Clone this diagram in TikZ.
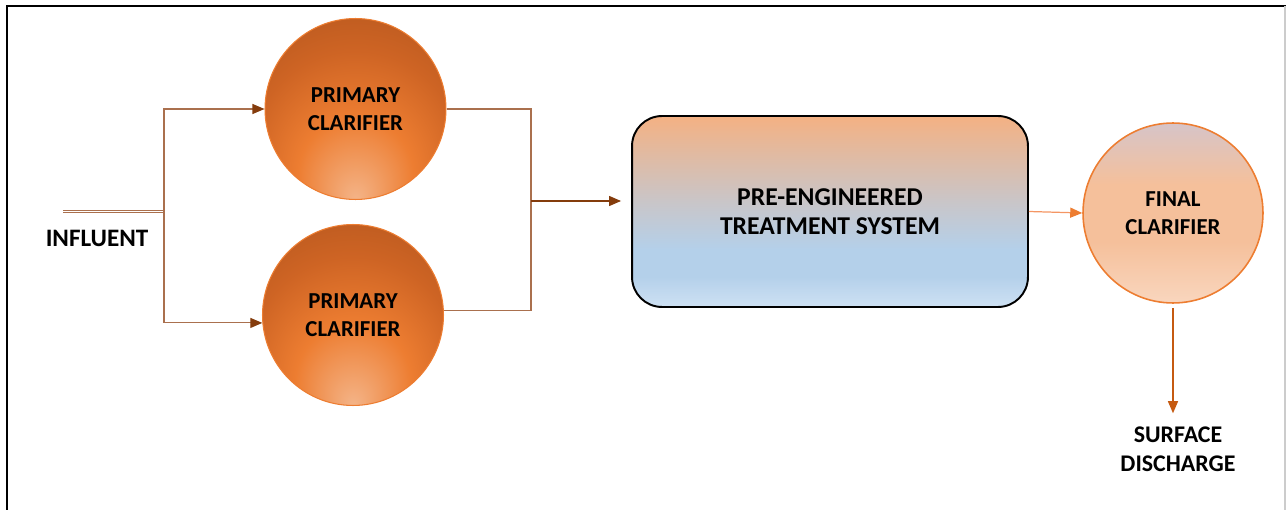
\documentclass[tikz,border=0pt]{standalone}
\usepackage{fontspec}
\setmainfont{Carlito}
\usetikzlibrary{arrows.meta}

%% Colours
\definecolor{pipeBrown}{RGB}{170,112,78}
\definecolor{tipBrown}{RGB}{132,60,12}
\definecolor{clarOrange}{RGB}{237,125,49}
\definecolor{clarLight}{RGB}{244,180,136}
\definecolor{clarDeep}{RGB}{206,100,36}
\definecolor{clarDark}{RGB}{172,82,28}
\definecolor{dischargeOrange}{RGB}{197,90,17}
\definecolor{effluentOrange}{RGB}{244,150,100}
\definecolor{boxOrange}{RGB}{244,177,131}
\definecolor{boxGray}{RGB}{200,198,202}
\definecolor{boxBlue}{RGB}{180,208,234}
\definecolor{boxBlueLight}{RGB}{206,225,243}
\definecolor{finalTop}{RGB}{214,196,200}
\definecolor{finalMid}{RGB}{245,192,155}
\definecolor{finalBottom}{RGB}{249,214,190}

%% Shadings
\pgfdeclareradialshading{primaryShade}{\pgfpoint{0bp}{-25bp}}{%
  color(0bp)=(clarLight); color(16bp)=(clarOrange); color(29bp)=(clarDeep);
  color(46bp)=(clarDark); color(60bp)=(clarDark)}
\pgfdeclareverticalshading{treatShade}{100bp}{%
  color(0bp)=(boxBlueLight); color(25bp)=(boxBlueLight); color(33bp)=(boxBlue);
  color(40bp)=(boxBlue); color(52bp)=(boxGray); color(75bp)=(boxOrange);
  color(100bp)=(boxOrange)}
\pgfdeclareverticalshading{finalShade}{100bp}{%
  color(0bp)=(finalBottom); color(25bp)=(finalBottom); color(42bp)=(finalMid);
  color(58bp)=(finalMid); color(75bp)=(finalTop); color(100bp)=(finalTop)}

\tikzset{
  label text/.style={font=\fontsize{14.3}{16}\selectfont\bfseries, align=center},
  circle text/.style={font=\fontsize{13}{16}\selectfont\bfseries, align=center},
  primary/.style={circle text, circle, minimum size=3.62cm, inner sep=0pt,
    shading=primaryShade, draw=clarOrange, line width=0.6pt},
  treatbox/.style={label text, font=\fontsize{14.6}{16.5}\selectfont\bfseries,
    rectangle, rounded corners=0.6cm,
    minimum width=7.92cm, minimum height=3.82cm, shading=treatShade,
    draw=black, line width=1.1pt},
  finalclar/.style={circle text, circle, minimum size=3.6cm, inner sep=0pt,
    shading=finalShade, draw=clarOrange, line width=0.9pt},
  pipe/.style={draw=pipeBrown, line width=0.6pt},
  brownTip/.style={-{Triangle[length=0.24cm, width=0.2cm, color=tipBrown]}}
}

\begin{document}
\begin{tikzpicture}[x=0.02cm, y=-0.02cm]
  \useasboundingbox (0,0) rectangle (1286,510);
  %% Frame
  \draw[line width=1.2pt] (7,510) -- (7,6) -- (1286,6);
  \draw[black!20, line width=0.6pt] (1285,6) -- (1285,510);

  %% Units
  \node[primary] (primaryOne) at (355.5,109) {PRIMARY\\CLARIFIER};
  \node[primary] (primaryTwo) at (353,315) {PRIMARY\\CLARIFIER};
  \node[treatbox] (treatment) at (830,211.5) {PRE-ENGINEERED\\TREATMENT SYSTEM};
  \node[finalclar] (finalClar) at (1173,213) {FINAL\\CLARIFIER};

  %% Labels
  \node[label text] (influent) at (97,238) {INFLUENT};
  \node[label text, font=\fontsize{13.6}{16.5}\selectfont\bfseries, inner sep=0pt]
    (discharge) at (1178,449) {SURFACE\\DISCHARGE};

  %% Junctions
  \coordinate (inletEnd) at (63,211);
  \coordinate (split) at (164,211);
  \coordinate (merge) at (531,201);

  %% Influent split (twin pipe)
  \draw[pipe, line width=0.5pt] ([yshift=0.6pt]inletEnd) -- ([yshift=0.6pt]split);
  \draw[pipe, line width=0.5pt] ([yshift=-0.6pt]inletEnd) -- ([yshift=-0.6pt]split);
  \draw[pipe, brownTip] (split) |- (primaryOne.west);
  \draw[pipe, brownTip] (split) |- (primaryTwo.185);
  %% Primary outlets
  \draw[pipe] (primaryOne.east) -| (merge);
  \draw[pipe] (primaryTwo.3) -| (merge);
  \draw[draw=tipBrown, line width=0.7pt, brownTip, shorten >=0.2cm]
    (merge) -- (merge -| treatment.west);
  %% Treatment to final clarifier
  \draw[draw=effluentOrange, line width=0.7pt,
    -{Triangle[length=0.24cm, width=0.2cm, color=clarOrange]}] (treatment.east) -- (finalClar.west);
  %% Discharge
  \draw[draw=dischargeOrange, line width=0.7pt, shorten <=0.08cm, shorten >=0.26cm,
    -{Triangle[length=0.24cm, width=0.2cm]}] (finalClar.south) -- (discharge.north -| finalClar.south);
\end{tikzpicture}
\end{document}
